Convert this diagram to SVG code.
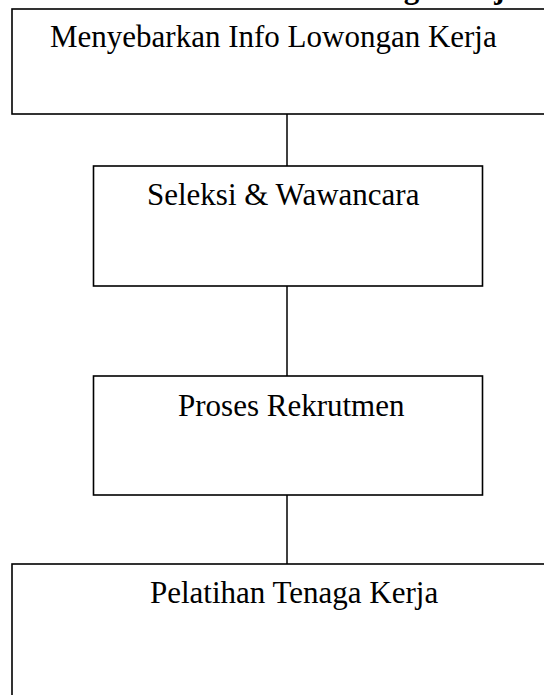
<svg xmlns="http://www.w3.org/2000/svg" width="544" height="695" viewBox="0 0 544 695">
<style>
.box{fill:#fff;stroke:#000;stroke-width:1.6}
.lbl{font-family:"Liberation Serif","Times New Roman",serif;font-size:31px;fill:#000}
.hd{font-family:"Liberation Serif","Times New Roman",serif;font-size:31px;font-weight:bold;fill:#000}
.con{stroke:#000;stroke-width:1.5;fill:none}
</style>
<rect width="544" height="695" fill="#fff"/>
<text class="hd" x="520" y="-2" text-anchor="end">Tenaga Kerja</text>
<g id="connectors">
<line class="con" x1="287" y1="114" x2="287" y2="166"/>
<line class="con" x1="287" y1="286" x2="287" y2="376"/>
<line class="con" x1="287" y1="495" x2="287" y2="564"/>
</g>
<g id="node1">
<rect class="box" x="12" y="9" width="540" height="105"/>
<text class="lbl" x="50" y="47">Menyebarkan Info Lowongan Kerja</text>
</g>
<g id="node2">
<rect class="box" x="93.5" y="166" width="389" height="120"/>
<text class="lbl" x="147" y="205">Seleksi &amp; Wawancara</text>
</g>
<g id="node3">
<rect class="box" x="93.5" y="376" width="389" height="119"/>
<text class="lbl" x="178" y="416">Proses Rekrutmen</text>
</g>
<g id="node4">
<rect class="box" x="12" y="564" width="540" height="140"/>
<text class="lbl" x="150" y="603">Pelatihan Tenaga Kerja</text>
</g>
</svg>
